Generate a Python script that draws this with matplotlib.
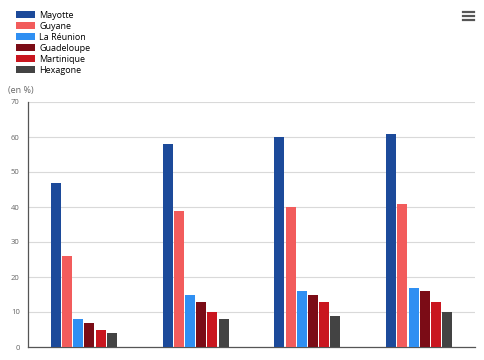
import matplotlib.pyplot as plt
import numpy as np
from matplotlib.lines import Line2D

plt.rcParams['font.family'] = ['Open Sans', 'DejaVu Sans']

categories = ['Catégorie 1', 'Catégorie 2', 'Catégorie 3', 'Catégorie 4']
territoires = ['Mayotte', 'Guyane', 'La Réunion', 'Guadeloupe', 'Martinique', 'Hexagone']
valeurs = [
    [47, 58, 60, 61],   # Mayotte
    [26, 39, 40, 41],   # Guyane
    [8, 15, 16, 17],    # La Réunion
    [7, 13, 15, 16],    # Guadeloupe
    [5, 10, 13, 13],    # Martinique
    [4, 8, 9, 10],      # Hexagone
]
couleurs = ['#1c4a9a', '#f25c5c', '#2f8ff2', '#7b0c16', '#c9161f', '#434343']

fig = plt.figure(figsize=(4.85, 3.6), dpi=100)
ax = fig.add_axes([28 / 485, 13 / 360, 447 / 485, 245 / 360])

x = np.arange(len(categories))
bw = 0.1
for i, (nom, vals) in enumerate(zip(territoires, valeurs)):
    ax.bar(x + (i - 2.5) * bw, vals, width=bw * 0.9, color=couleurs[i], label=nom, zorder=3)

ax.set_xlim(-0.5, 3.5)
ax.set_ylim(0, 70)
ax.set_yticks(range(0, 71, 10))
ax.tick_params(axis='y', length=0, labelsize=5.5, labelcolor='#666666', pad=6)
ax.set_xticks(x)
ax.set_xticklabels(categories, fontsize=6, color='#666666')
ax.tick_params(axis='x', length=0, pad=10)
ax.grid(axis='y', color='#d9d9d9', linewidth=0.8, zorder=0)
for s in ['top', 'right']:
    ax.spines[s].set_visible(False)
ax.spines['left'].set_color('#555555')
ax.spines['bottom'].set_color('#555555')
ax.spines['left'].set_linewidth(0.9)
ax.spines['bottom'].set_linewidth(0.9)

fig.text(8 / 485, 1 - 90 / 360, '(en %)', fontsize=6.5, color='#666666', va='center')

ax.legend(loc='upper left', bbox_to_anchor=(16 / 485, 1 - 11 / 360), bbox_transform=fig.transFigure,
          frameon=False, fontsize=6.5, handlelength=2.1, handleheight=0.8, labelspacing=0.22,
          handletextpad=0.45, borderpad=0, borderaxespad=0)

# menu icon
for yy in [12, 16, 20]:
    fig.add_artist(Line2D([463 / 485, 474 / 485], [1 - yy / 360, 1 - yy / 360],
                          transform=fig.transFigure, color='#555555', linewidth=1.6))

fig.savefig('out.png', dpi=100)
